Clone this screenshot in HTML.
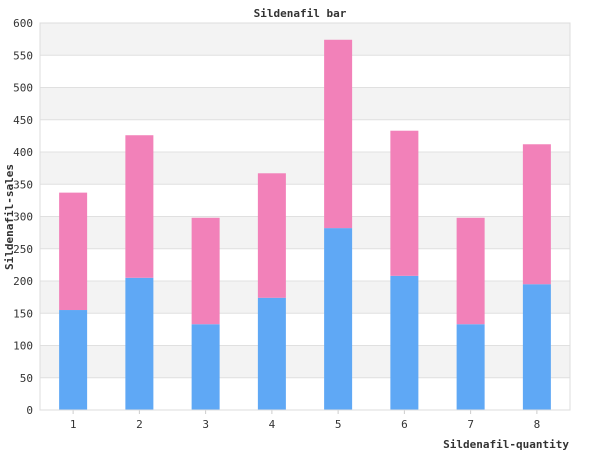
<!DOCTYPE html>
<html><head><meta charset="utf-8"><style>
body{margin:0;background:#fff;}
svg text{font-family:"DejaVu Sans Mono","Liberation Mono",monospace;font-size:11px;fill:#333;}
</style></head><body>
<svg id="chart" width="600" height="450">
<text x="300" y="17" text-anchor="middle" font-weight="bold">Sildenafil bar</text>
<g id="grid"></g><g id="bars"></g><g id="axes"></g>
<text x="569" y="448" text-anchor="end" font-weight="bold">Sildenafil-quantity</text>
<text transform="translate(13,217) rotate(-90)" text-anchor="middle" font-weight="bold">Sildenafil-sales</text>
</svg>
<script>
const categories=["1","2","3","4","5","6","7","8"];
const seriesA=[155,205,133,174,282,208,133,195];
const seriesB=[182,221,165,193,292,225,165,217];
const yTicks=[0,50,100,150,200,250,300,350,400,450,500,550,600];
const NS="http://www.w3.org/2000/svg";
const L=40,R=570,T=23,B=410,YMAX=600;
const y=v=>B-(v/YMAX)*(B-T);
const band=(R-L)/categories.length;
const x=i=>L+band*i+band/2;
function mk(tag,attrs,parent){const e=document.createElementNS(NS,tag);for(const k in attrs)e.setAttribute(k,attrs[k]);document.getElementById(parent).appendChild(e);return e;}
for(let i=0;i<yTicks.length-1;i++){
 if(i%2===1){const r=mk('rect',{x:L,y:y(yTicks[i+1]),width:R-L,height:y(yTicks[i])-y(yTicks[i+1]),fill:'#f3f3f3'},'grid');
 
 }
}
yTicks.forEach(t=>{
 const l=mk('line',{x1:L,x2:R,y1:y(t),y2:y(t),stroke:'#e0e0e0'},'grid');
 
 
 const tx=mk('text',{x:L-7,y:y(t)+4,'text-anchor':'end'},'axes');tx.textContent=t;
 
 
});
const bw=28;
categories.forEach((c,i)=>{
 const a=mk('rect',{x:x(i)-bw/2,y:y(seriesA[i]),width:bw,height:B-y(seriesA[i]),fill:'#5fa8f5'},'bars');
 
 
 const tot=seriesA[i]+seriesB[i];
 const b=mk('rect',{x:x(i)-bw/2,y:y(tot),width:bw,height:y(seriesA[i])-y(tot),fill:'#f281b9'},'bars');
 
 
 const tk=mk('line',{x1:x(i),x2:x(i),y1:B,y2:B+4,stroke:'#ccc'},'axes');
 
 
 const tx=mk('text',{x:x(i),y:B+18,'text-anchor':'middle'},'axes');tx.textContent=c;
 
 
});
const fr=mk('rect',{x:L,y:T,width:R-L,height:B-T,fill:'none',stroke:'#ddd'},'axes');


</script>
</body></html>
